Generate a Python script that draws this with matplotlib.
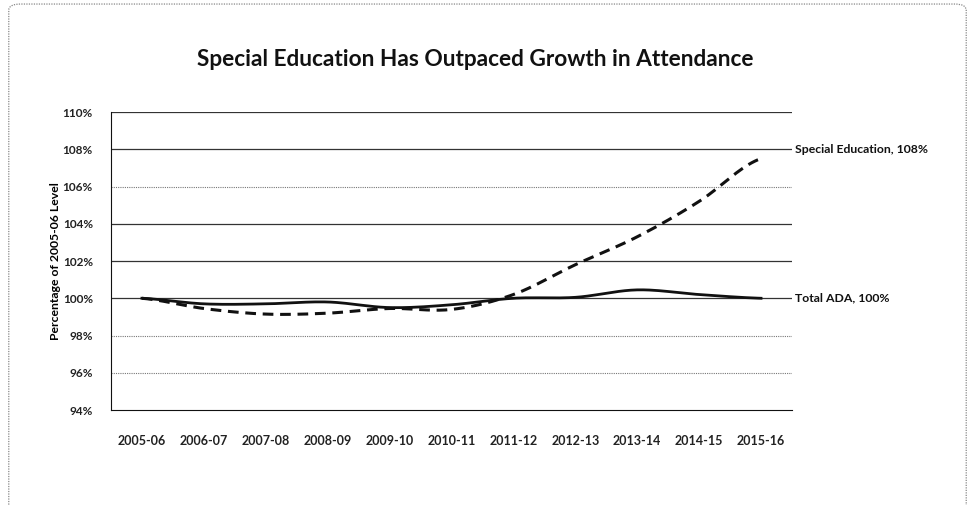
import numpy as np
import matplotlib
matplotlib.use("Agg")
import matplotlib.pyplot as plt
from matplotlib.patches import FancyBboxPatch

years = ["2005-06", "2006-07", "2007-08", "2008-09", "2009-10", "2010-11",
         "2011-12", "2012-13", "2013-14", "2014-15", "2015-16"]
total_ada = [100.0, 99.7, 99.7, 99.8, 99.5, 99.65, 100.0, 100.05, 100.45, 100.2, 100.0]
special_ed = [100.0, 99.45, 99.15, 99.2, 99.45, 99.4, 100.2, 101.8, 103.3, 105.2, 107.5]
yticks = [94, 96, 98, 100, 102, 104, 106, 108, 110]
title = "Special Education Has Outpaced Growth in Attendance"
ylabel = "Percentage of 2005-06 Level"
label_total = "Total ADA, 100%"
label_sped = "Special Education, 108%"

plt.rcParams['font.family'] = ['Lato', 'DejaVu Sans']


def smooth(y, n=20):
    # Catmull-Rom smoothing, like Excel's smoothed lines
    y = np.asarray(y, float)
    x = np.arange(len(y), dtype=float)
    xs, ys = [], []
    for i in range(len(y) - 1):
        p0 = y[i - 1] if i > 0 else y[i]
        p1, p2 = y[i], y[i + 1]
        p3 = y[i + 2] if i + 2 < len(y) else y[i + 1]
        t = np.linspace(0, 1, n, endpoint=False)
        yy = 0.5 * ((2 * p1) + (-p0 + p2) * t + (2 * p0 - 5 * p1 + 4 * p2 - p3) * t ** 2
                    + (-p0 + 3 * p1 - 3 * p2 + p3) * t ** 3)
        xs.append(x[i] + t)
        ys.append(yy)
    xs.append([x[-1]])
    ys.append([y[-1]])
    return np.concatenate(xs), np.concatenate(ys)


fig = plt.figure(figsize=(9.75, 5.05), dpi=100)
border = FancyBboxPatch((0.009, -0.05), 0.982, 1.042, boxstyle="round,pad=0,rounding_size=0.012",
                        transform=fig.transFigure, fill=False, edgecolor="#888888",
                        linestyle=(0, (1, 1)), linewidth=0.9, clip_on=False)
fig.patches.append(border)

ax = fig.add_axes([0.1138, 0.1881, 0.6985, 0.5901])
ax.set_xlim(-0.5, len(years) - 0.5)
ax.set_ylim(94, 110)

for v in yticks[1:]:
    if v in (106, 98, 96):
        ax.axhline(v, color="#777777", lw=0.8, linestyle=(0, (1, 1)), zorder=1)
    else:
        ax.axhline(v, color="#333333", lw=0.9, zorder=1)

xs, ys = smooth(total_ada)
ax.plot(xs, ys, color="#111111", lw=2.0, zorder=3)
xs, ys = smooth(special_ed)
ax.plot(xs, ys, color="#111111", lw=2.2, linestyle=(0, (3.5, 2.2)), zorder=4)

ax.set_xticks(range(len(years)))
ax.set_xticklabels(years, fontsize=9, fontweight="bold", color="#222222")
ax.set_yticks(yticks)
ax.set_yticklabels([f"{v}%" for v in yticks], fontsize=8.5, fontweight="bold", color="#222222")
ax.tick_params(axis="both", length=0)
ax.tick_params(axis="x", pad=18)
ax.tick_params(axis="y", pad=13)
for s in ("top", "right"):
    ax.spines[s].set_visible(False)
ax.spines["left"].set_color("#111111")
ax.spines["bottom"].set_color("#111111")
ax.set_ylabel(ylabel, fontsize=8.8, fontweight="bold", labelpad=1)

ax.text(len(years) - 0.45, 108, label_sped, fontsize=8.8, fontweight="bold",
        va="center", ha="left", color="#111111", clip_on=False)
ax.text(len(years) - 0.45, total_ada[-1], label_total, fontsize=8.8, fontweight="bold",
        va="center", ha="left", color="#111111", clip_on=False)

fig.text(0.487, 0.883, title, fontsize=16.3, fontweight="bold", ha="center", va="center",
         color="#111111")

fig.savefig("out.png", dpi=100)
